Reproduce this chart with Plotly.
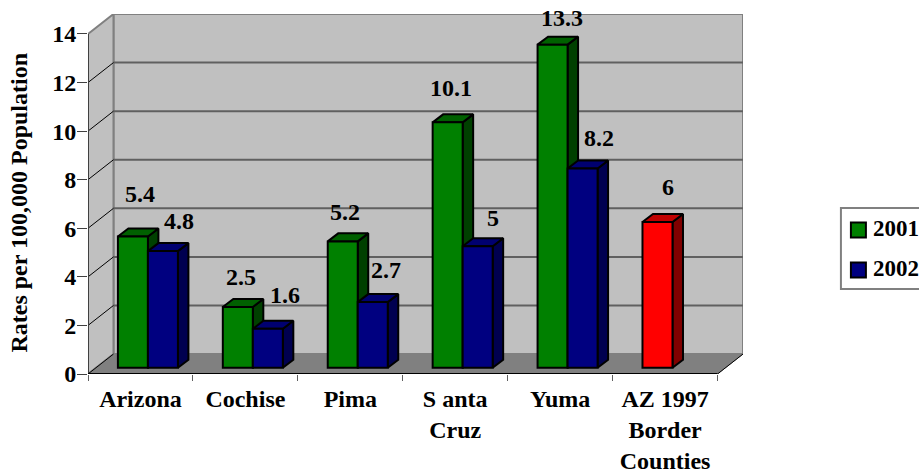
import plotly.graph_objects as go

categories = ["Arizona", "Cochise", "Pima", "S anta<br>Cruz", "Yuma", "AZ 1997<br>Border<br>Counties"]
series_names = ["2001", "2002"]
values_2001 = [5.4, 2.5, 5.2, 10.1, 13.3, 6]
values_2002 = [4.8, 1.6, 2.7, 5, 8.2, None]
y_ticks = [0, 2, 4, 6, 8, 10, 12, 14]
y_title = "Rates per 100,000 Population"

# per-label nudges (px), hand placed in the original
shift_2001 = [(7, 43), (3, 30), (2, 29), (3, 34), (9, 27), (11, 35)]
shift_2002 = [(16, 30), (17, 34), (13, 32), (15, 28), (16, 31), (0, 0)]

# styles: (front, side, top)
GREEN = ("#008000", "#004000", "#006000")
BLUE = ("#000080", "#000050", "#000070")
RED = ("#FF0000", "#800000", "#C00000")
FONT = "Liberation Serif"
FS = 24

# geometry in data units
L, R, T, B = 87.5, 743, 14, 374
N = len(categories)
YMAX = 14
DX, DY = 0.243, 0.822           # depth of the plot box
BDX, BDY = 0.1, 0.33            # depth of a bar
FLOOR = 0.26                    # bar front plane above the front edge
OFF, W = 0.285, 0.286           # bar left offset in category, bar width

fig = go.Figure()


def poly(xs, ys, fill, line="black", width=2):
    fig.add_trace(go.Scatter(
        x=xs + xs[:1], y=ys + ys[:1], mode="lines", fill="toself", fillcolor=fill,
        line=dict(color=line, width=width), hoverinfo="skip", showlegend=False))


def seg(xs, ys, color, width):
    fig.add_trace(go.Scatter(x=xs, y=ys, mode="lines", line=dict(color=color, width=width),
                             hoverinfo="skip", showlegend=False, cliponaxis=False))


# walls and floor
poly([DX, N + DX, N + DX, DX], [DY, DY, YMAX + DY, YMAX + DY], "#C0C0C0", "#808080", 2)
poly([0, DX, DX, 0], [0, DY, YMAX + DY, YMAX], "#C0C0C0", "#808080", 2)
poly([0, N, N + DX, DX], [0, 0, DY, DY], "#808080", "#808080", 1)
for v in y_ticks[1:-1]:
    seg([DX, N + DX], [v + DY, v + DY], "#606060", 2)
for v in y_ticks[:-1]:
    seg([0, DX], [v, v + DY], "#000000", 1)
seg([N, N + DX], [0, DY], "#000000", 1)
seg([0, 0], [0, YMAX], "#404040", 2)
seg([0, N], [0, 0], "#000000", 2)

# side and top faces
for i in range(N):
    for k, vals in enumerate((values_2001, values_2002)):
        v = vals[i]
        if v is None:
            continue
        col = RED if (k == 0 and values_2002[i] is None) else (GREEN if k == 0 else BLUE)
        x1 = i + OFF + k * W
        x2 = x1 + W
        y1 = FLOOR + v
        poly([x2, x2 + BDX, x2 + BDX, x2], [FLOOR, FLOOR + BDY, y1 + BDY, y1], col[1])
        poly([x1, x2, x2 + BDX, x1 + BDX], [y1, y1, y1 + BDY, y1 + BDY], col[2])

# front faces, on an overlaid subplot so they hide the neighbouring side face
for k, vals in enumerate((values_2001, values_2002)):
    colors = [(RED if (k == 0 and values_2002[i] is None) else (GREEN if k == 0 else BLUE))[0] for i in range(N)]
    fig.add_trace(go.Bar(
        x=list(range(N)), y=vals, base=FLOOR, width=W, offset=OFF + k * W, name=series_names[k],
        marker=dict(color=colors, line=dict(color="black", width=2)),
        xaxis="x2", yaxis="y2", showlegend=False))

annotations = []
for k, (vals, shifts) in enumerate(((values_2001, shift_2001), (values_2002, shift_2002))):
    for i, v in enumerate(vals):
        if v is None:
            continue
        annotations.append(dict(
            x=i + OFF + k * W + W / 2, y=FLOOR + v, xref="x2", yref="y2", text=str(v), showarrow=False,
            xshift=shifts[i][0], yshift=shifts[i][1], xanchor="center", yanchor="middle",
            font=dict(family=FONT, size=FS, color="black", weight=700)))


def px(x):
    return (x - L) / (R - L)


def py(y):
    return (B - y) / (B - T)


annotations.append(dict(
    x=px(18), y=py(203), xref="paper", yref="paper", text=y_title, textangle=-90, showarrow=False,
    xanchor="center", yanchor="middle", font=dict(family=FONT, size=24, color="black", weight=700)))

shapes = [dict(type="rect", xref="paper", yref="paper", x0=px(841), x1=px(960), y0=py(289), y1=py(208),
               line=dict(color="#808080", width=2), fillcolor="white", layer="above")]
for k, name in enumerate(series_names):
    cy = 230 + 40 * k
    shapes.append(dict(type="rect", xref="paper", yref="paper", x0=px(851), x1=px(866), y0=py(cy + 7.5), y1=py(cy - 7.5),
                       line=dict(color="black", width=2), fillcolor=(GREEN, BLUE)[k][0], layer="above"))
    annotations.append(dict(x=px(872.5), y=py(cy - 2), xref="paper", yref="paper", text=name, showarrow=False,
                            xanchor="left", yanchor="middle", xshift=-1,
                            font=dict(family=FONT, size=23, color="black", weight=700)))

fig.update_layout(
    width=919, height=471, autosize=False, barmode="overlay", showlegend=False,
    margin=dict(l=L, r=919 - R, t=T, b=471 - B, pad=0, autoexpand=False),
    paper_bgcolor="white", plot_bgcolor="white",
    font=dict(family=FONT, color="black"),
    annotations=annotations, shapes=shapes,
    xaxis=dict(range=[0, N + DX], tickmode="array", tickvals=[i + 0.5 for i in range(N)], ticktext=categories,
               ticks="", showgrid=False, zeroline=False, showline=False, ticklabelstandoff=8,
               tickfont=dict(family=FONT, size=FS, color="black", weight=700),
               minor=dict(tickmode="array", tickvals=list(range(N + 1)), ticks="outside", ticklen=6, tickwidth=1,
                          tickcolor="#606060", showgrid=False)),
    yaxis=dict(range=[0, YMAX + DY], tickmode="array", tickvals=y_ticks, ticks="outside", ticklen=10, tickwidth=1,
               tickcolor="#404040", showgrid=False, zeroline=False, showline=False, ticklabelstandoff=-4,
               tickfont=dict(family=FONT, size=FS, color="black", weight=700)),
    xaxis2=dict(range=[0, N + DX], overlaying="x", visible=False),
    yaxis2=dict(range=[0, YMAX + DY], overlaying="y", visible=False),
)
fig.write_html("out.html", config={"displayModeBar": False},
               post_script="document.body.style.margin='0';document.body.style.overflow='hidden';")
